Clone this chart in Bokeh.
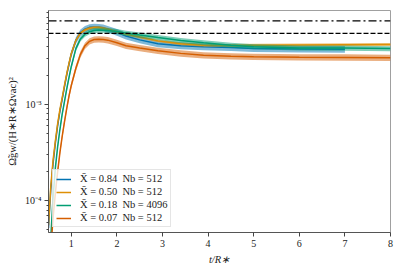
from bokeh.plotting import figure
from bokeh.models import (Span, Legend, LegendItem, FixedTicker,
                          CustomJSTickFormatter, Range1d)
from bokeh.embed import file_html
from bokeh.resources import INLINE

# ---------------- data ----------------
t_common = [0.5, 0.55, 0.6, 0.65, 0.7, 0.75, 0.8, 0.85, 0.9, 0.95, 1.0, 1.1,
            1.2, 1.3, 1.4, 1.5, 1.6, 1.7, 1.8, 2.0, 2.2, 2.5, 2.9, 3.4, 3.9,
            4.5, 5.0, 6.0, 7.0, 8.0]
t_blue = t_common[:-1]

omega_084 = [5.25e-5, 1.32e-4, 2.45e-4, 3.98e-4, 6.03e-4, 8.51e-4, 1.135e-3,
             1.53e-3, 2.04e-3, 2.63e-3, 3.35e-3, 4.62e-3, 5.56e-3, 6.05e-3,
             6.31e-3, 6.38e-3, 6.35e-3, 6.24e-3, 6.05e-3, 5.62e-3, 5.13e-3,
             4.68e-3, 4.27e-3, 4.07e-3, 3.98e-3, 3.89e-3, 3.80e-3, 3.76e-3,
             3.75e-3]
omega_050 = [5.6e-5, 1.41e-4, 2.63e-4, 4.17e-4, 6.31e-4, 8.91e-4, 1.17e-3,
             1.58e-3, 2.09e-3, 2.69e-3, 3.39e-3, 4.62e-3, 5.50e-3, 5.93e-3,
             6.19e-3, 6.28e-3, 6.28e-3, 6.17e-3, 6.03e-3, 5.69e-3, 5.37e-3,
             5.01e-3, 4.57e-3, 4.27e-3, 4.12e-3, 4.09e-3, 4.12e-3, 4.15e-3,
             4.17e-3, 4.19e-3]
omega_018 = [1.78e-5, 4.17e-5, 1.07e-4, 2.19e-4, 3.63e-4, 5.50e-4, 7.94e-4,
             1.07e-3, 1.45e-3, 1.91e-3, 2.48e-3, 3.80e-3, 4.79e-3, 5.37e-3,
             5.69e-3, 5.86e-3, 5.92e-3, 5.90e-3, 5.86e-3, 5.71e-3, 5.50e-3,
             5.25e-3, 4.95e-3, 4.62e-3, 4.37e-3, 4.12e-3, 3.98e-3, 3.86e-3,
             3.85e-3, 3.80e-3]
omega_007 = [1.26e-5, 3.16e-5, 6.61e-5, 1.20e-4, 2.00e-4, 3.16e-4, 4.68e-4,
             6.61e-4, 9.12e-4, 1.23e-3, 1.58e-3, 2.38e-3, 3.31e-3, 4.07e-3,
             4.52e-3, 4.72e-3, 4.76e-3, 4.73e-3, 4.65e-3, 4.37e-3, 4.07e-3,
             3.85e-3, 3.60e-3, 3.39e-3, 3.24e-3, 3.16e-3, 3.13e-3, 3.09e-3,
             3.08e-3, 3.05e-3]

# relative uncertainty of each series (band half-width)
rel_err = [0.08, 0.035, 0.06, 0.075]

labels = ["X̄ = 0.84  Nb = 512", "X̄ = 0.50  Nb = 512",
          "X̄ = 0.18  Nb = 4096", "X̄ = 0.07  Nb = 512"]

hline_dashdot = 7.36e-3
hline_dashed = 5.46e-3

y_major = [1e-4, 1e-3]
y_minor = [5e-5, 6e-5, 7e-5, 8e-5, 9e-5,
           2e-4, 3e-4, 4e-4, 5e-4, 6e-4, 7e-4, 8e-4, 9e-4,
           2e-3, 3e-3, 4e-3, 5e-3, 6e-3, 7e-3, 8e-3, 9e-3]
x_ticks = [1, 2, 3, 4, 5, 6, 7, 8]

colors = ["#0173b2", "#de8f05", "#029e73", "#d55e00"]
FONT = "Liberation Serif"

# ---------------- figure ----------------
p = figure(width=403, height=269, y_axis_type="log",
           x_range=Range1d(0.5, 8), y_range=Range1d(4.7e-5, 9.44e-3),
           output_backend="svg", toolbar_location=None,
           min_border_left=48, min_border_right=13, min_border_top=10,
           min_border_bottom=37)
p.background_fill_color = "white"
p.border_fill_color = "white"
p.outline_line_color = "#a0a0a0"
p.xgrid.visible = False
p.ygrid.visible = False

series = [(t_blue, omega_084), (t_common, omega_050),
          (t_common, omega_018), (t_common, omega_007)]
items = []
for (tt, vals), err, col, lab in zip(series, rel_err, colors, labels):
    lo = [v * (1 - err) for v in vals]
    hi = [v * (1 + err) for v in vals]
    p.varea(x=tt, y1=lo, y2=hi, fill_color=col, fill_alpha=0.5)
    r = p.line(tt, vals, line_color=col, line_width=1.5)
    items.append(LegendItem(label=lab, renderers=[r]))

p.add_layout(Span(location=hline_dashdot, dimension="width", line_color="black",
                  line_width=1.3, line_dash="8 3 2 3"))
p.add_layout(Span(location=hline_dashed, dimension="width", line_color="black",
                  line_width=1.3, line_dash="5 2"))

# axes
p.xaxis.ticker = FixedTicker(ticks=x_ticks)
p.yaxis.ticker = FixedTicker(ticks=y_major, minor_ticks=y_minor)
p.yaxis.formatter = CustomJSTickFormatter(code="""
const e = Math.round(Math.log10(tick));
const sup = {'-':'\u207b','0':'\u2070','1':'\u00b9','2':'\u00b2','3':'\u00b3',
             '4':'\u2074','5':'\u2075','6':'\u2076','7':'\u2077','8':'\u2078','9':'\u2079'};
return '10' + String(e).split('').map(c => sup[c]).join('');
""")
for ax in (p.xaxis[0], p.yaxis[0]):
    ax.axis_line_color = "#555555"
    ax.major_tick_line_color = "#444444"
    ax.minor_tick_line_color = "#444444"
    ax.major_tick_in = 0
    ax.major_tick_out = 4
    ax.minor_tick_in = 0
    ax.minor_tick_out = 2
    ax.major_label_text_font = FONT
    ax.major_label_text_font_size = "10px"
    ax.major_label_text_color = "#222222"
    ax.axis_label_text_font = FONT
    ax.axis_label_text_font_size = "10.5px"
    ax.axis_label_text_color = "#222222"
    ax.major_label_standoff = 3
    ax.axis_label_standoff = 4
p.xaxis.minor_tick_line_color = None
p.xaxis.axis_label = "t/R∗"
p.xaxis.axis_label_text_font_style = "italic"
p.yaxis.axis_label = "Ω̃gw/(H∗R∗Ωvac)²"
p.yaxis.axis_label_text_font_style = "normal"

legend = Legend(items=items, location=(4, 5))
legend.label_text_font = FONT
legend.label_text_font_size = "10.5px"
legend.label_text_color = "#222222"
legend.glyph_width = 15
legend.glyph_height = 10
legend.label_height = 10
legend.label_standoff = 9
legend.spacing = 2
legend.padding = 3
legend.margin = 0
legend.border_line_color = "#cccccc"
legend.background_fill_color = "white"
legend.background_fill_alpha = 0.8
p.add_layout(legend)

open("out.html", "w").write(file_html(p, INLINE))
